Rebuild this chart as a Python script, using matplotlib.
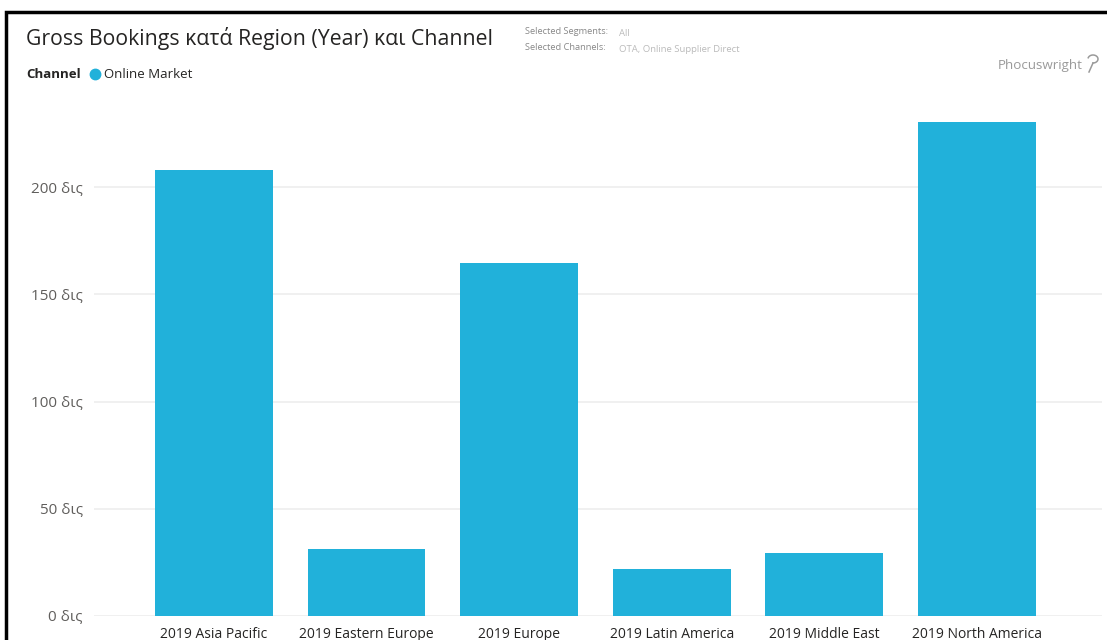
import numpy as np
import matplotlib.pyplot as plt
from matplotlib.patches import Rectangle

plt.rcParams['font.family'] = ['Open Sans', 'DejaVu Sans']

# data
regions = ['2019 Asia Pacific', '2019 Eastern Europe', '2019 Europe',
           '2019 Latin America', '2019 Middle East', '2019 North America']
bookings = [208, 31.2, 164.6, 22, 29.4, 230.3]   # δις
yticks = [0, 50, 100, 150, 200]
ytick_labels = ['0 δις', '50 δις', '100 δις', '150 δις', '200 δις']

bar_color = '#21B1DA'
W, H = 1107, 640

fig = plt.figure(figsize=(W / 100, H / 100), dpi=100)
ax = fig.add_axes([94 / W, 24 / H, (1102 - 94) / W, (616 - 100) / H])

x = np.arange(len(regions))
ax.bar(x, bookings, width=0.773, color=bar_color, zorder=3)

ax.set_xlim(-0.786, 5.82)
ax.set_ylim(0, 240.6)
ax.set_yticks(yticks)
ax.set_yticklabels(ytick_labels, fontsize=11, color='#605E5C')
ax.set_xticks(x)
ax.set_xticklabels(regions, fontsize=10, color='#252423')
ax.tick_params(axis='both', length=0)
ax.tick_params(axis='y', pad=8)
ax.tick_params(axis='x', pad=8)
ax.grid(axis='y', color='#EEEEEE', linewidth=1.2, zorder=0)
for s in ax.spines.values():
    s.set_visible(False)

# frame around the visual
fig.patches.append(Rectangle((6 / W, -0.1), 1.2, 1 - 12 / H + 0.1, transform=fig.transFigure,
                             fill=False, edgecolor='black', linewidth=2.5))

# title and legend
fig.text(26 / W, 1 - 38 / H, 'Gross Bookings κατά Region (Year) και Channel',
         fontsize=15.3, color='#252423', va='center', ha='left')
fig.text(26 / W, 1 - 74 / H, 'Channel', fontsize=9.5, fontweight='bold',
         color='#252423', va='center', ha='left')
fig.add_artist(plt.Line2D([95 / W], [1 - 74 / H], marker='o', markersize=7.5,
                          color=bar_color, linestyle='none', transform=fig.transFigure))
fig.text(104 / W, 1 - 74 / H, 'Online Market', fontsize=9.5, color='#252423',
         va='center', ha='left')

# selection info
fig.text(525 / W, 1 - 31 / H, 'Selected Segments:', fontsize=6.7, color='#888888', va='center')
fig.text(619 / W, 1 - 33 / H, 'All', fontsize=6.8, color='#BBBBBB', va='center')
fig.text(525 / W, 1 - 47 / H, 'Selected Channels:', fontsize=6.7, color='#888888', va='center')
fig.text(619 / W, 1 - 49 / H, 'OTA, Online Supplier Direct', fontsize=6.8, color='#BBBBBB', va='center')

# logo
fig.text(998 / W, 1 - 66 / H, 'Phocuswright', fontsize=9.6, color='#9A9A9A',
         va='center', ha='left')
t = np.linspace(-0.5 * np.pi, 0.9 * np.pi, 30)
fig.add_artist(plt.Line2D((1093 + 5 * np.cos(t)) / W, 1 - (59 - 4 * np.sin(t)) / H,
                          color='#9A9A9A', linewidth=1.1, transform=fig.transFigure))
fig.add_artist(plt.Line2D([1093 / W, 1089 / W], [1 - 63 / H, 1 - 72 / H],
                          color='#9A9A9A', linewidth=1.1, transform=fig.transFigure))

fig.savefig('out.png', dpi=100, facecolor='white')
